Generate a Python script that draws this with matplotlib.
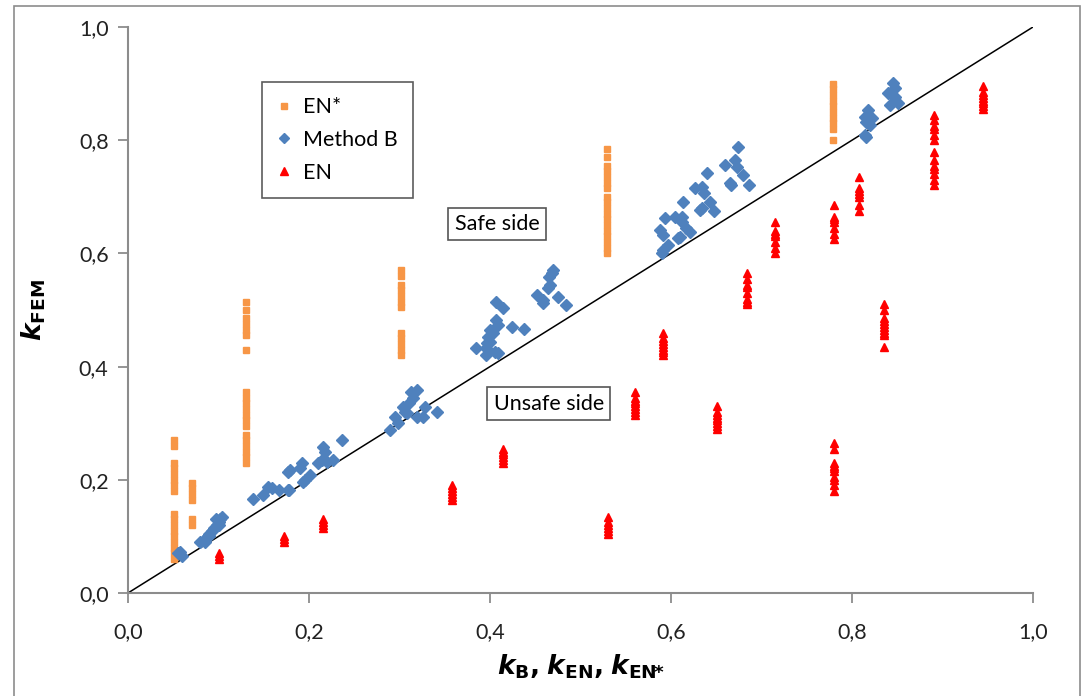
import numpy as np
import matplotlib.pyplot as plt
from matplotlib.patches import Rectangle

plt.rcParams['font.family'] = ['Lato', 'DejaVu Sans']
plt.rcParams['mathtext.fontset'] = 'dejavusans'

# EN* : colunas verticais (x fixo, varios y)
en_star_cols = [0.051, 0.071, 0.130, 0.302, 0.529, 0.779]
en_star_ys = [
    [0.27, 0.26, 0.23, 0.22, 0.21, 0.20, 0.19, 0.18, 0.14, 0.13, 0.12, 0.11, 0.10, 0.09, 0.08, 0.07, 0.06],
    [0.195, 0.185, 0.175, 0.165, 0.13, 0.12],
    [0.515, 0.50, 0.485, 0.475, 0.465, 0.455, 0.43, 0.355, 0.345, 0.335, 0.325, 0.315, 0.305,
     0.295, 0.28, 0.27, 0.26, 0.25, 0.24, 0.23],
    [0.57, 0.56, 0.545, 0.535, 0.525, 0.515, 0.505, 0.46, 0.45, 0.44, 0.43, 0.42],
    [0.785, 0.77, 0.755, 0.745, 0.735, 0.725, 0.715, 0.70, 0.69, 0.68, 0.67, 0.66, 0.65, 0.64,
     0.63, 0.62, 0.61, 0.60],
    [0.90, 0.89, 0.88, 0.87, 0.86, 0.85, 0.84, 0.83, 0.82, 0.80],
]

# Method B
metodo_b_x = [0.055, 0.060, 0.058,
              0.080, 0.085, 0.088, 0.090, 0.093, 0.095, 0.098, 0.100, 0.102, 0.104, 0.100, 0.090, 0.085, 0.097,
              0.138, 0.149, 0.155, 0.159, 0.167, 0.177, 0.177, 0.192, 0.193, 0.201, 0.210,
              0.190, 0.179, 0.196, 0.216, 0.218, 0.214, 0.220, 0.227, 0.236, 0.178,
              0.290, 0.295, 0.298, 0.304, 0.306, 0.310, 0.313, 0.315, 0.319, 0.319, 0.326, 0.328, 0.341, 0.308,
              0.385, 0.396, 0.396, 0.400, 0.398, 0.400, 0.405, 0.409, 0.407, 0.409, 0.407, 0.414, 0.424, 0.438,
              0.403, 0.397,
              0.452, 0.459, 0.459, 0.464, 0.466, 0.465, 0.468, 0.470, 0.475, 0.484,
              0.588, 0.591, 0.593, 0.590, 0.591, 0.597, 0.608, 0.610, 0.604, 0.612, 0.612, 0.613, 0.617, 0.621,
              0.626, 0.634, 0.636, 0.632, 0.634, 0.640, 0.643, 0.647,
              0.660, 0.665, 0.671, 0.673, 0.674, 0.680, 0.686, 0.666,
              0.818, 0.814, 0.816, 0.820, 0.822, 0.814, 0.816,
              0.845, 0.848, 0.840, 0.844, 0.842, 0.851, 0.848]
metodo_b_y = [0.070, 0.065, 0.072,
              0.090, 0.095, 0.100, 0.105, 0.110, 0.115, 0.120, 0.125, 0.130, 0.135, 0.120, 0.100, 0.090, 0.130,
              0.166, 0.173, 0.187, 0.186, 0.182, 0.214, 0.182, 0.230, 0.196, 0.208, 0.230,
              0.220, 0.217, 0.200, 0.258, 0.249, 0.235, 0.232, 0.235, 0.270, 0.182,
              0.288, 0.311, 0.300, 0.329, 0.320, 0.336, 0.355, 0.344, 0.359, 0.311, 0.311, 0.329, 0.320, 0.318,
              0.433, 0.420, 0.433, 0.465, 0.452, 0.443, 0.426, 0.424, 0.482, 0.473, 0.514, 0.503, 0.470, 0.466,
              0.459, 0.441,
              0.526, 0.518, 0.512, 0.539, 0.544, 0.558, 0.565, 0.571, 0.523, 0.509,
              0.641, 0.632, 0.662, 0.600, 0.606, 0.615, 0.627, 0.629, 0.664, 0.664, 0.656, 0.691, 0.644, 0.638,
              0.716, 0.718, 0.707, 0.677, 0.680, 0.742, 0.691, 0.675,
              0.756, 0.724, 0.765, 0.753, 0.788, 0.738, 0.720, 0.720,
              0.853, 0.841, 0.832, 0.827, 0.839, 0.809, 0.806,
              0.901, 0.892, 0.883, 0.880, 0.862, 0.866, 0.876]

# EN : colunas verticais
en_cols = [0.100, 0.172, 0.215, 0.358, 0.414, 0.530, 0.560, 0.591, 0.651, 0.684, 0.715,
           0.780, 0.780, 0.808, 0.835, 0.891, 0.945]
en_ys = [
    [0.070, 0.065, 0.060],
    [0.100, 0.095, 0.090],
    [0.130, 0.125, 0.120, 0.115],
    [0.190, 0.185, 0.180, 0.175, 0.170, 0.165],
    [0.255, 0.250, 0.245, 0.240, 0.235, 0.230],
    [0.135, 0.125, 0.120, 0.115, 0.110, 0.105],
    [0.355, 0.345, 0.340, 0.335, 0.330, 0.325, 0.320, 0.315],
    [0.460, 0.450, 0.445, 0.440, 0.435, 0.430, 0.425, 0.420],
    [0.330, 0.320, 0.315, 0.310, 0.305, 0.300, 0.295, 0.290],
    [0.565, 0.555, 0.545, 0.540, 0.530, 0.520, 0.515, 0.510],
    [0.655, 0.640, 0.635, 0.630, 0.620, 0.610, 0.600],
    [0.685, 0.665, 0.660, 0.655, 0.645, 0.635, 0.625],
    [0.265, 0.255, 0.230, 0.225, 0.220, 0.215, 0.205, 0.200, 0.190, 0.180],
    [0.735, 0.715, 0.710, 0.705, 0.700, 0.685, 0.675],
    [0.510, 0.500, 0.485, 0.480, 0.475, 0.470, 0.465, 0.460, 0.455, 0.435],
    [0.845, 0.835, 0.825, 0.820, 0.810, 0.800, 0.780, 0.765, 0.755, 0.750, 0.740, 0.730, 0.720],
    [0.895, 0.885, 0.880, 0.875, 0.870, 0.865, 0.860, 0.855],
]

ticks = [0.0, 0.2, 0.4, 0.6, 0.8, 1.0]
tick_labels = ['0,0', '0,2', '0,4', '0,6', '0,8', '1,0']

def expande(cols, ys):
    xs, yy = [], []
    for x, lista in zip(cols, ys):
        xs += [x] * len(lista)
        yy += lista
    return xs, yy

fig = plt.figure(figsize=(10.86, 6.96), dpi=100)
ax = fig.add_axes([128 / 1086, 103 / 696, 905 / 1086, 566 / 696])

# borda da area do grafico
fig.patches.append(Rectangle((14 / 1086, -0.02), 1066 / 1086, 1.02 - 6 / 696, transform=fig.transFigure,
                             fill=False, edgecolor='#8c8c8c', linewidth=1.2))

ax.plot([0, 1], [0, 1], color='black', linewidth=1.1, zorder=2)

xs, ys = expande(en_star_cols, en_star_ys)
ax.plot(xs, ys, linestyle='none', marker='s', markersize=5, color='#F79646', label='EN*', zorder=3)
ax.plot(metodo_b_x, metodo_b_y, linestyle='none', marker='D', markersize=5.8, color='#4F81BD',
        label='Method B', zorder=3)
xs, ys = expande(en_cols, en_ys)
ax.plot(xs, ys, linestyle='none', marker='^', markersize=6, color='#FF0000', label='EN', zorder=3)

ax.set_xlim(0, 1)
ax.set_ylim(0, 1)
ax.set_xticks(ticks)
ax.set_xticklabels(tick_labels)
ax.set_yticks(ticks)
ax.set_yticklabels(tick_labels)
ax.tick_params(direction='out', length=7, width=1.3, color='#8c8c8c', labelsize=15.5, pad=7,
               labelcolor='#222222')
ax.tick_params(axis='x', pad=14)
for lado in ['top', 'right']:
    ax.spines[lado].set_visible(False)
for lado in ['left', 'bottom']:
    ax.spines[lado].set_color('#8c8c8c')
    ax.spines[lado].set_linewidth(1.5)

ax.set_ylabel(r'$\mathbfit{k}_{\mathbf{FEM}}$', fontsize=19)
ax.yaxis.set_label_coords(-0.088, 0.5)
ax.set_xlabel(r'$\mathbfit{k}_{\mathbf{B}}\mathbf{,}\;\mathbfit{k}_{\mathbf{EN}}\mathbf{,}\;\mathbfit{k}_{\mathbf{EN}\!\mathbf{*}}$',
              fontsize=19)
ax.xaxis.set_label_coords(0.500, -0.105)

caixa = dict(boxstyle='square,pad=0.3', facecolor='white', edgecolor='#555555', linewidth=1.2)
ax.text(0.408, 0.652, 'Safe side', fontsize=15.5, ha='center', va='center', bbox=caixa, zorder=4)
ax.text(0.465, 0.334, 'Unsafe side', fontsize=15.5, ha='center', va='center', bbox=caixa, zorder=4)

leg = ax.legend(loc='upper left', bbox_to_anchor=((262 - 128) / 905, (593 - 82) / 566), fontsize=15.5,
                frameon=True, fancybox=False, edgecolor='#333333', handlelength=0.6, handletextpad=0.6,
                labelspacing=0.6, borderpad=0.7, borderaxespad=0, markerscale=0.9)
leg.get_frame().set_linewidth(1.2)

fig.savefig('out.png', dpi=100)
